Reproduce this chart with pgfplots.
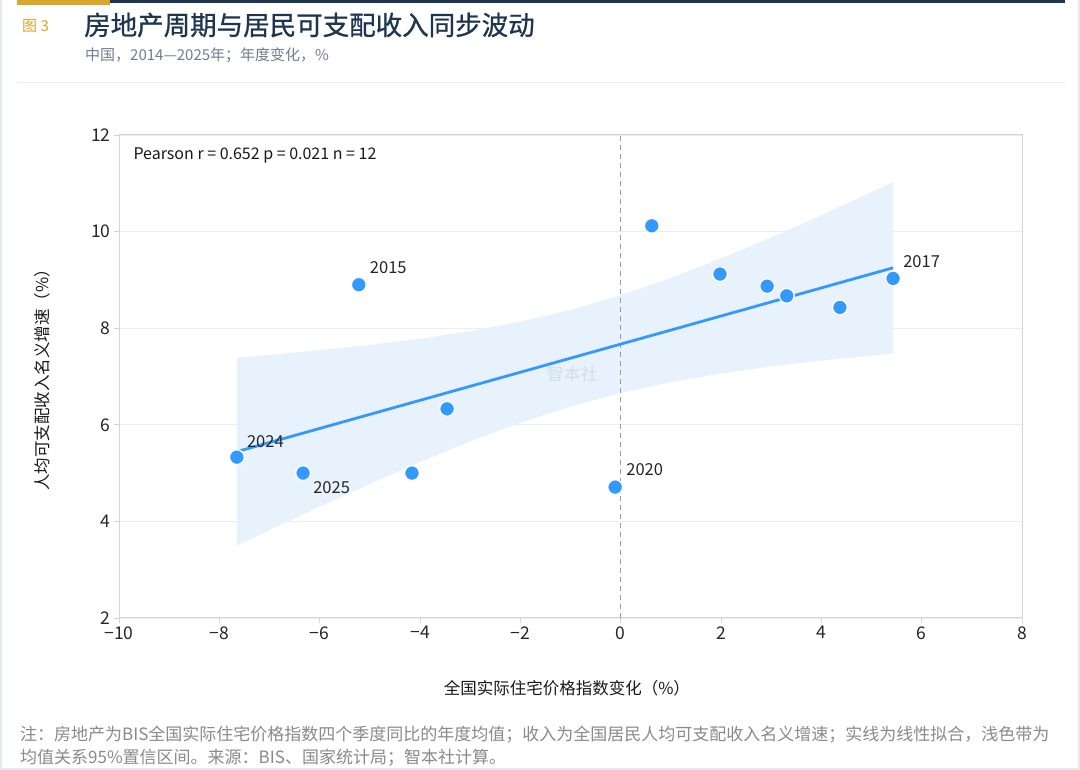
\documentclass[border=0pt]{standalone}
\usepackage{pgfplots}
\pgfplotsset{compat=1.18}
\usepackage{fontspec}
\setmainfont{Noto Sans CJK SC}
\definecolor{ptblue}{HTML}{3399FF}
\definecolor{bandblue}{HTML}{E8F2FD}
\definecolor{navy}{HTML}{1E3550}
\definecolor{gold}{HTML}{D9A62E}
\definecolor{subgrey}{HTML}{6E7D91}
\definecolor{notegrey}{HTML}{8A8A8A}
\definecolor{gridgrey}{HTML}{EDEDED}
\definecolor{axgrey}{HTML}{D5D5D5}
\definecolor{framegrey}{HTML}{E4E9F0}
\definecolor{wmgrey}{HTML}{D5DEE8}

\pgfplotstableread{
x y
-7.65 5.33
-6.33 5.00
-4.16 5.00
-3.46 6.33
-5.22 8.90
-0.11 4.71
0.62 10.12
1.98 9.12
2.92 8.87
3.31 8.67
4.37 8.43
5.43 9.03
}\pts

\pgfplotstableread{
x fit
-7.65 5.444
5.43 9.250
}\fitline

% 95% band: upper edge left to right, then lower edge right to left
\pgfplotstableread{
x y
-7.65 7.390
-7.00 7.447
-6.00 7.543
-5.00 7.653
-4.00 7.782
-3.00 7.939
-2.00 8.135
-1.00 8.381
0.00 8.682
1.00 9.039
2.00 9.441
3.00 9.878
4.00 10.338
5.00 10.817
5.43 11.026
5.43 7.474
5.00 7.433
4.00 7.330
3.00 7.208
2.00 7.063
1.00 6.883
0.00 6.658
-1.00 6.377
-2.00 6.041
-3.00 5.655
-4.00 5.230
-5.00 4.777
-6.00 4.305
-7.00 3.819
-7.65 3.500
}\band

\begin{document}
\begin{tikzpicture}
\path[use as bounding box, fill=white] (0,0) rectangle (1080bp,770bp);
\draw[framegrey, line width=1.5bp] (1bp,0bp) -- (1bp,770bp);
\draw[framegrey, line width=1.5bp] (0bp,1bp) -- (1080bp,1bp);
\draw[framegrey, line width=1.5bp] (1079bp,0bp) -- (1079bp,770bp);
% top bars
\fill[gold] (17bp,765bp) rectangle (110bp,770bp);
\fill[navy] (110bp,767bp) rectangle (1065bp,770bp);
% titles
\node[anchor=west, text=gold, font=\fontsize{15bp}{17bp}\selectfont, inner sep=0pt] at (22bp,744bp) {图 3};
\node[anchor=west, text=navy, font=\fontsize{26.5bp}{29bp}\selectfont\addfontfeature{FakeBold=0.8}, inner sep=0pt] at (84bp,745bp) {房地产周期与居民可支配收入同步波动};
\node[anchor=west, text=subgrey, font=\fontsize{15bp}{17bp}\selectfont, inner sep=0pt] at (85bp,715bp) {中国，2014—2025年；年度变化，\%};
\draw[gridgrey, line width=1bp] (17bp,687bp) -- (1065bp,687bp);
% footnote
\node[anchor=west, text=notegrey, font=\fontsize{17bp}{19bp}\selectfont, inner sep=0pt] at (20bp,35bp) {注：房地产为BIS全国实际住宅价格指数四个季度同比的年度均值；收入为全国居民人均可支配收入名义增速；实线为线性拟合，浅色带为};
\node[anchor=west, text=notegrey, font=\fontsize{17bp}{19bp}\selectfont, inner sep=0pt] at (20bp,12bp) {均值关系95\%置信区间。来源：BIS、国家统计局；智本社计算。};

\begin{axis}[
  at={(119bp,152bp)}, anchor=south west,
  width=903bp, height=483bp, scale only axis,
  xmin=-10, xmax=8, ymin=2, ymax=12,
  xtick={-10,-8,...,8}, ytick={2,4,...,12},
  xticklabels={−10,−8,−6,−4,−2,0,2,4,6,8},
  /pgf/number format/assume math mode=true,
  ticklabel style={font=\fontsize{17.5bp}{19bp}\selectfont, text=black!85},
  tick style={axgrey, line width=0.8bp},
  major tick length=5bp,
  tick align=outside,
  xtick pos=bottom, ytick pos=left,
  axis line style={axgrey, line width=1bp},
  ymajorgrids, grid style={gridgrey, line width=0.8bp},
  clip=false,
  xlabel={全国实际住宅价格指数变化（\%）},
  ylabel={人均可支配收入名义增速（\%）},
  label style={font=\fontsize{16.5bp}{18bp}\selectfont, text=black!90},
  xlabel style={at={(axis description cs:0.496,-0.145)}, anchor=center},
  ylabel style={at={(axis description cs:-0.0853,0.501)}, anchor=center},
]
\addplot[fill=bandblue, draw=none] table[x=x, y=y] {\band} -- cycle;
\node[text=wmgrey, font=\fontsize{17bp}{19bp}\selectfont] at (axis cs:-0.97,7.05) {智本社};
\addplot[gray!80, line width=0.9bp, dash pattern=on 5bp off 4bp] coordinates {(0,2) (0,12)};
\addplot[ptblue, line width=2.8bp] table[x=x, y=fit] {\fitline};
\addplot[only marks, mark=*, mark size=7.4bp, mark options={fill=ptblue, draw=white, line width=1.3bp}] table[x=x, y=y] {\pts};
\node[anchor=west, font=\fontsize{16bp}{18bp}\selectfont, text=black!90, xshift=11bp] at (axis description cs:0.0,0.957) {Pearson r = 0.652 p = 0.021 n = 12};
\node[anchor=west, font=\fontsize{16.5bp}{18bp}\selectfont, text=black!85, inner sep=0pt, xshift=11bp, yshift=17bp] at (axis cs:-5.22,8.90) {2015};
\node[anchor=west, font=\fontsize{16.5bp}{18bp}\selectfont, text=black!85, inner sep=0pt, xshift=10bp, yshift=16bp] at (axis cs:-7.65,5.33) {2024};
\node[anchor=west, font=\fontsize{16.5bp}{18bp}\selectfont, text=black!85, inner sep=0pt, xshift=10bp, yshift=-15bp] at (axis cs:-6.33,5.00) {2025};
\node[anchor=west, font=\fontsize{16.5bp}{18bp}\selectfont, text=black!85, inner sep=0pt, xshift=11bp, yshift=17bp] at (axis cs:-0.11,4.71) {2020};
\node[anchor=west, font=\fontsize{16.5bp}{18bp}\selectfont, text=black!85, inner sep=0pt, xshift=10bp, yshift=17bp] at (axis cs:5.43,9.03) {2017};
\end{axis}
\end{tikzpicture}
\end{document}
